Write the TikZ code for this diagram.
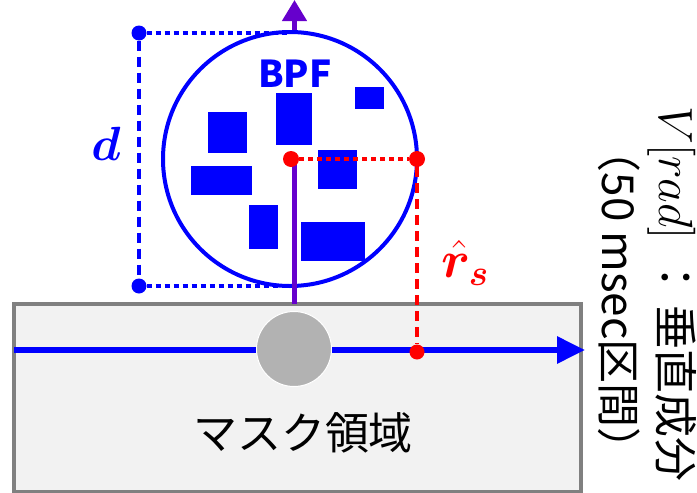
\RequirePackage{fix-cm}
\documentclass[tikz,border=0pt]{standalone}
\usepackage{amsmath}
\usepackage{bm}
\usepackage{fontspec}
\newfontfamily\jp{Noto Sans CJK JP}
\usetikzlibrary{arrows.meta}
\definecolor{myblue}{RGB}{0,0,255}
\definecolor{mypurple}{RGB}{102,0,204}
\definecolor{myred}{RGB}{255,0,0}
\definecolor{maskfill}{RGB}{242,242,242}
\definecolor{maskdraw}{RGB}{128,128,128}
\definecolor{graydisk}{RGB}{178,178,178}
\tikzset{
  maskbox/.style={draw=maskdraw,fill=maskfill,line width=4pt,minimum width=567pt,minimum height=188pt,inner sep=0pt},
  bpfcircle/.style={circle,draw=myblue,fill=white,line width=4pt,minimum size=254pt,inner sep=0pt},
  disk/.style={circle,fill=graydisk,draw=white,line width=1pt,minimum size=75pt,inner sep=0pt},
  bdot/.style={circle,fill=myblue,minimum size=15pt,inner sep=0pt},
  rdot/.style={circle,fill=myred,minimum size=16pt,inner sep=0pt},
  rdotsm/.style={circle,fill=myred,minimum size=15pt,inner sep=0pt},
  redact/.style={fill=myblue},
  bdotted/.style={myblue,line width=4.5pt,dash pattern=on 5pt off 4pt},
  bdashed/.style={myblue,line width=4.5pt,dash pattern=on 10pt off 6pt},
  rdotted/.style={myred,line width=4.5pt,dash pattern=on 5pt off 4pt},
  rdashed/.style={myred,line width=4.5pt,dash pattern=on 10pt off 6pt},
  jptext/.style={font=\jp\fontsize{44}{52}\selectfont,inner sep=0pt},
}
\begin{document}
\begin{tikzpicture}[x=1pt,y=-1pt]
\useasboundingbox (0,0) rectangle (697,493);
% mask region
\node[maskbox] (mask) at (297.5,398) {};
\node[jptext] (masklabel) at (303,433) {マスク領域};
% horizontal axis
\coordinate (hl) at (14,350);
\coordinate (hr) at (585,350);
\draw[myblue,line width=6pt,-{Triangle[length=28pt,width=26pt]}] (hl) -- (hr);
\node[disk] (origin) at (294,349) {};
% vertical axis
\coordinate (vb) at (294.5,304);
\coordinate (vt) at (294.5,0);
\coordinate (vm) at (294.5,159);
\coordinate (ctr) at (290,159);
\draw[mypurple,line width=4.5pt,-{Triangle[length=21pt,width=24pt]}] (vb) -- (vt);
% BPF circle
\node[bpfcircle] (bpf) at (ctr) {};
\draw[mypurple,line width=4.5pt] (vb) -- (vm);
% redaction boxes
\fill[redact] (208,112) rectangle (247,153);
\fill[redact] (276,93) rectangle (312,145);
\fill[redact] (355,87) rectangle (384,109);
\fill[redact] (191,166) rectangle (252,195);
\fill[redact] (318,150) rectangle (357,189);
\fill[redact] (249,205) rectangle (278,249);
\fill[redact] (301,222) rectangle (365,261);
\node[font=\jp\bfseries\fontsize{37}{42}\selectfont,text=myblue,inner sep=0pt] (bpflabel) at (295,74) {BPF};
% red radius
\node[rdot] (rc) at (291,159) {};
\node[rdot] (re) at (417,159) {};
\node[rdotsm] (rp) at (417,352) {};
\draw[rdotted] (rc) -- (re);
\draw[rdashed] (re) -- (rp);
\node[text=myred,inner sep=0pt,font=\fontsize{52}{60}\selectfont] (rlabel) at (465,263) {$\bm{\hat{r}}_{\bm{s}}$};
% diameter d
\node[bdot] (dt) at (139,33) {};
\node[bdot] (db) at (139,286) {};
\coordinate (ct) at (290,33);
\coordinate (cb) at (290,286);
\draw[bdotted] (dt) -- (ct);
\draw[bdotted] (db) -- (cb);
\draw[bdashed] (dt) -- (db);
\node[text=myblue,inner sep=0pt,font=\fontsize{48}{56}\selectfont] (dlabel) at (106,144) {$\bm{d}$};
% axis caption
\node[jptext,rotate=-90,anchor=east] (cap1) at (672,482) {{\fontsize{48}{52}\selectfont$V[rad]$}\hspace{16pt}：\hspace{6pt}垂直成分};
\node[jptext,rotate=-90,anchor=east] (cap2) at (619,472) {（50 msec区間）};
\end{tikzpicture}
\end{document}
